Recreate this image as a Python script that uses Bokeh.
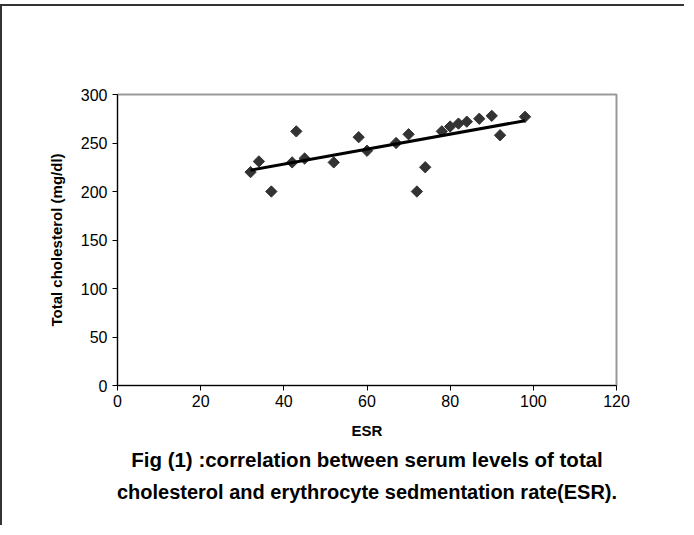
import math
from bokeh.plotting import figure
from bokeh.models import Range1d, FixedTicker, Title
from bokeh.embed import file_html
from bokeh.resources import INLINE

# ---- data ----
esr = [32, 34, 37, 42, 43, 45, 52, 58, 60, 67, 70, 72, 74, 78, 80, 82, 84, 87, 90, 92, 98]
cholesterol = [220, 231, 200, 230, 262, 234, 230, 256, 242, 250, 259, 200, 225,
               262, 267, 270, 272, 275, 278, 258, 277]
trend_x = [32, 98]
trend_y = [222, 273]
x_ticks = [0, 20, 40, 60, 80, 100, 120]
y_ticks = [0, 50, 100, 150, 200, 250, 300]

FONT = "Liberation Sans"

p = figure(width=684, height=521,
           x_range=Range1d(0, 120), y_range=Range1d(0, 300),
           output_backend="svg", toolbar_location=None,
           min_border_left=115, min_border_right=70,
           min_border_top=88, min_border_bottom=142)
p.styles = {"margin-top": "4px",
            "margin-bottom": "-8px",
            "border-left": "2px solid #333333",
            "border-top": "2px solid #333333"}

p.background_fill_color = "white"
p.border_fill_color = "white"
p.outline_line_color = "#999999"
p.outline_line_width = 2
p.xgrid.visible = False
p.ygrid.visible = False

for ax in (p.xaxis[0], p.yaxis[0]):
    ax.axis_line_color = "black"
    ax.axis_line_width = 1
    ax.major_tick_line_color = "black"
    ax.major_tick_out = 5
    ax.major_tick_in = 0
    ax.minor_tick_line_color = None
    ax.major_label_text_font = FONT
    ax.major_label_text_font_size = "16px"
    ax.major_label_text_color = "black"
    ax.axis_label_text_font = FONT
    ax.axis_label_text_font_size = "15px"
    ax.axis_label_text_font_style = "bold"
    ax.axis_label_text_color = "black"

p.xaxis.ticker = FixedTicker(ticks=x_ticks)
p.yaxis.ticker = FixedTicker(ticks=y_ticks)
p.xaxis.axis_label = "ESR"
p.yaxis.axis_label = "Total cholesterol (mg/dl)"
p.xaxis.major_label_standoff = 4
p.yaxis.major_label_standoff = 5
p.xaxis.axis_label_standoff = 12
p.yaxis.axis_label_standoff = 13

p.scatter(esr, cholesterol, marker="square", angle=math.pi / 4, size=8,
          fill_color="#333333", line_color="#333333")
p.line(trend_x, trend_y, line_color="black", line_width=3)

t1 = Title(text="Fig (1) :correlation between serum levels of total",
           align="center", text_font=FONT, text_font_size="20.5px",
           text_font_style="bold", text_color="black", standoff=8)
t2 = Title(text="cholesterol and erythrocyte sedmentation rate(ESR).",
           align="center", text_font=FONT, text_font_size="20px",
           text_font_style="bold", text_color="black", standoff=8)
p.add_layout(t1, "below")
p.add_layout(t2, "below")

open("out.html", "w").write(file_html(p, INLINE))
